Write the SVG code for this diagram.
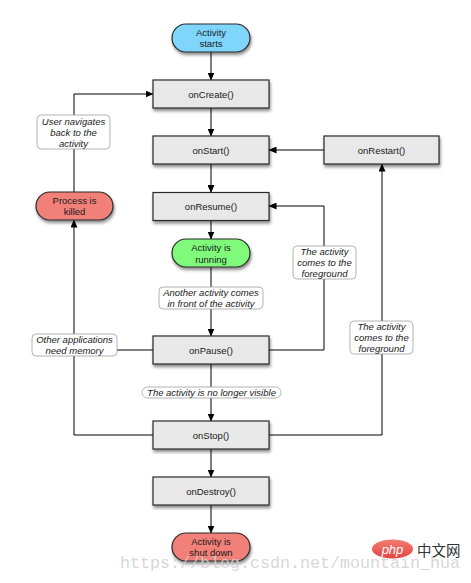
<svg xmlns="http://www.w3.org/2000/svg" width="471" height="583" viewBox="0 0 471 583">
<defs>
<filter id="sh" x="-20%" y="-20%" width="140%" height="160%">
<feDropShadow dx="1" dy="2.5" stdDeviation="1.6" flood-color="#000" flood-opacity="0.45"/>
</filter>
<marker id="ah" markerWidth="8" markerHeight="7" refX="7.5" refY="3.5" orient="auto" markerUnits="userSpaceOnUse">
<path d="M0,0 L8,3.5 L0,7 z" fill="#000"/>
</marker>
<linearGradient id="phpg" x1="0" y1="0" x2="0" y2="1">
<stop offset="0" stop-color="#f27d74"/>
<stop offset="1" stop-color="#e2463f"/>
</linearGradient>
</defs>
<style>
.box{fill:#e8e8e8;stroke:#2a2a2a;stroke-width:1.2;filter:url(#sh)}
.pill{stroke:#2a2a2a;stroke-width:1.2;filter:url(#sh)}
.lbl{fill:#fff;stroke:#a0a0a0;stroke-width:0.8}
.t{font-family:"Liberation Sans",Arial,sans-serif;font-size:9.5px;fill:#1a1a1a;text-anchor:middle}
.i{font-family:"Liberation Sans",Arial,sans-serif;font-size:9.5px;font-style:italic;fill:#1a1a1a;text-anchor:middle}
.c{fill:none;stroke:#000;stroke-width:1}
.a{marker-end:url(#ah)}
</style>
<rect width="471" height="583" fill="#fff"/>

<g id="connectors">
<line class="c a" x1="211" y1="52" x2="211" y2="80"/>
<line class="c a" x1="211" y1="108" x2="211" y2="136"/>
<line class="c a" x1="211" y1="164" x2="211" y2="192.5"/>
<line class="c a" x1="211" y1="220.5" x2="211" y2="239"/>
<line class="c a" x1="211" y1="267" x2="211" y2="336"/>
<line class="c a" x1="211" y1="364" x2="211" y2="421"/>
<line class="c a" x1="211" y1="449" x2="211" y2="477"/>
<line class="c a" x1="211" y1="505" x2="211" y2="533"/>
<line class="c a" x1="324" y1="150" x2="269" y2="150"/>
<polyline class="c a" points="269,350 324,350 324,206 269,206"/>
<polyline class="c a" points="269,435 382,435 382,164"/>
<line class="c" x1="153" y1="350" x2="74" y2="350"/>
<polyline class="c a" points="153,435 74,435 74,220"/>
<polyline class="c a" points="74,192 74,94 153,94"/>
</g>

<g id="label-user-navigates">
<rect class="lbl" x="37" y="115" width="73" height="34" rx="4"/>
<text class="i" x="73.5" y="124.5">User navigates</text>
<text class="i" x="73.5" y="135.7">back to the</text>
<text class="i" x="73.5" y="146.8">activity</text>
</g>
<g id="label-foreground-1">
<rect class="lbl" x="293" y="246" width="63" height="33" rx="4"/>
<text class="i" x="324.5" y="255">The activity</text>
<text class="i" x="324.5" y="266">comes to the</text>
<text class="i" x="324.5" y="276.8">foreground</text>
</g>
<g id="label-foreground-2">
<rect class="lbl" x="350" y="321" width="63" height="33" rx="4"/>
<text class="i" x="381.5" y="329.5">The activity</text>
<text class="i" x="381.5" y="340.5">comes to the</text>
<text class="i" x="381.5" y="351.5">foreground</text>
</g>
<g id="label-other-apps">
<rect class="lbl" x="32" y="334" width="85" height="22" rx="4"/>
<text class="i" x="74.5" y="342.8">Other applications</text>
<text class="i" x="74.5" y="354">need memory</text>
</g>
<g id="label-another-activity">
<rect class="lbl" x="159" y="287" width="104" height="22" rx="4"/>
<text class="i" x="211" y="295.5">Another activity comes</text>
<text class="i" x="211" y="306.5">in front of the activity</text>
</g>
<g id="label-no-longer-visible">
<rect class="lbl" x="142" y="387" width="139" height="11" rx="5.5"/>
<text class="i" x="211.5" y="396">The activity is no longer visible</text>
</g>

<g id="activity-starts">
<rect class="pill" x="172" y="24" width="78" height="28" rx="14" fill="#7fd5fb"/>
<text class="t" x="211" y="36">Activity</text>
<text class="t" x="211" y="47">starts</text>
</g>
<g id="onCreate">
<rect class="box" x="153" y="80" width="116" height="28"/>
<text class="t" x="211" y="97.8">onCreate()</text>
</g>
<g id="onStart">
<rect class="box" x="153" y="136" width="116" height="28"/>
<text class="t" x="211" y="153.8">onStart()</text>
</g>
<g id="onRestart">
<rect class="box" x="324" y="136" width="115" height="28"/>
<text class="t" x="381.5" y="153.8">onRestart()</text>
</g>
<g id="process-killed">
<rect class="pill" x="36" y="192" width="77" height="28" rx="14" fill="#f08078"/>
<text class="t" x="74.5" y="204">Process is</text>
<text class="t" x="74.5" y="214.8">killed</text>
</g>
<g id="onResume">
<rect class="box" x="153" y="192.5" width="116" height="28"/>
<text class="t" x="211" y="209.8">onResume()</text>
</g>
<g id="activity-running">
<rect class="pill" x="172" y="239" width="78" height="28" rx="14" fill="#7ffa7a"/>
<text class="t" x="211" y="251">Activity is</text>
<text class="t" x="211" y="262.5">running</text>
</g>
<g id="onPause">
<rect class="box" x="153" y="336" width="116" height="28"/>
<text class="t" x="211" y="353.5">onPause()</text>
</g>
<g id="onStop">
<rect class="box" x="153" y="421" width="116" height="28"/>
<text class="t" x="211" y="438.8">onStop()</text>
</g>
<g id="onDestroy">
<rect class="box" x="153" y="477" width="116" height="28"/>
<text class="t" x="211" y="494.8">onDestroy()</text>
</g>
<g id="activity-shut-down">
<rect class="pill" x="172" y="533" width="78" height="28" rx="14" fill="#f08078"/>
<text class="t" x="211" y="545">Activity is</text>
<text class="t" x="211" y="556">shut down</text>
</g>

<g id="watermark">
<ellipse cx="392.5" cy="549" rx="20.5" ry="9.5" fill="url(#phpg)"/>
<text x="392.5" y="553.5" font-family="'Liberation Sans',Arial,sans-serif" font-size="13" font-style="italic" fill="#fff" text-anchor="middle">php</text>
<text x="417" y="556" font-family="'Noto Sans CJK SC',sans-serif" font-size="14.5" fill="#333">中文网</text>
<text x="120" y="568" font-family="'Liberation Mono',monospace" font-size="16.7" fill="#cfcfcf" fill-opacity="0.85" textLength="340" lengthAdjust="spacingAndGlyphs">https://blog.csdn.net/mountain_hua</text>
</g>
</svg>
